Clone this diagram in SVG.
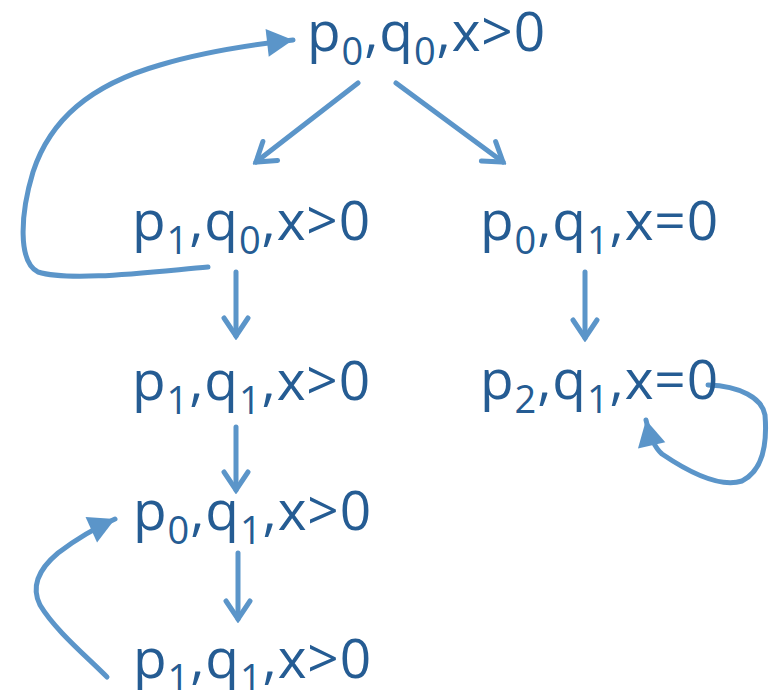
<svg xmlns="http://www.w3.org/2000/svg" width="778" height="690" viewBox="0 0 778 690">
<defs>
<style>
.t{font-family:"Open Sans","Liberation Sans",sans-serif;font-size:55px;letter-spacing:0.9px;fill:#255c93}
.s{font-size:38px}
.c{fill:none;stroke:#5b95c9;stroke-width:5;stroke-linecap:round}
.o{marker-end:url(#open)}
.f{marker-end:url(#fill)}
</style>
<marker id="open" markerUnits="userSpaceOnUse" viewBox="-22 -15 26 30" refX="0" refY="0" markerWidth="26" markerHeight="30" orient="auto">
<path d="M-18,-12 L0,0 L-18,12" fill="none" stroke="#5b95c9" stroke-width="5" stroke-linecap="round" stroke-linejoin="miter"/>
</marker>
<marker id="fill" markerUnits="userSpaceOnUse" viewBox="-28 -16 30 32" refX="0" refY="0" markerWidth="30" markerHeight="32" orient="auto">
<path d="M-26,-14 L0,0 L-26,14 Z" fill="#5b95c9"/>
</marker>
</defs>
<g id="connectors">
<path class="c o" d="M358,83 L256,162"/>
<path class="c o" d="M396,83 L503,162"/>
<path class="c o" d="M236,272 L236,336"/>
<path class="c o" d="M236,427 L236,490"/>
<path class="c o" d="M238,553 L238,619"/>
<path class="c o" d="M585,272 L585,338"/>
<path class="c f" d="M208,267 C150,272 70,282 38,272 C18,262 20,215 33,172 C50,120 90,85 160,65 C200,53 240,46 293,40"/>
<path class="c f" d="M708,385 C740,386 762,398 765,415 C767,440 764,470 742,481 C720,488 690,473 662,454 C655,448 650,438 646,420"/>
<path class="c f" d="M107,677 C85,655 55,630 40,605 C30,585 40,568 58,553 C75,540 95,528 115,519"/>
</g>
<g id="n-p0q0-top"><text class="t" x="307" y="51">p<tspan class="s" dy="14">0</tspan><tspan dy="-14">,q</tspan><tspan class="s" dy="14">0</tspan><tspan dy="-14">,x&gt;0</tspan></text></g>
<g id="n-p1q0"><text class="t" x="132" y="240">p<tspan class="s" dy="14">1</tspan><tspan dy="-14">,q</tspan><tspan class="s" dy="14">0</tspan><tspan dy="-14">,x&gt;0</tspan></text></g>
<g id="n-p0q1-eq"><text class="t" x="480" y="240">p<tspan class="s" dy="14">0</tspan><tspan dy="-14">,q</tspan><tspan class="s" dy="14">1</tspan><tspan dy="-14">,x=0</tspan></text></g>
<g id="n-p1q1-a"><text class="t" x="132" y="400">p<tspan class="s" dy="14">1</tspan><tspan dy="-14">,q</tspan><tspan class="s" dy="14">1</tspan><tspan dy="-14">,x&gt;0</tspan></text></g>
<g id="n-p2q1-eq"><text class="t" x="480" y="399">p<tspan class="s" dy="14">2</tspan><tspan dy="-14">,q</tspan><tspan class="s" dy="14">1</tspan><tspan dy="-14">,x=0</tspan></text></g>
<g id="n-p0q1-gt"><text class="t" x="133" y="530">p<tspan class="s" dy="14">0</tspan><tspan dy="-14">,q</tspan><tspan class="s" dy="14">1</tspan><tspan dy="-14">,x&gt;0</tspan></text></g>
<g id="n-p1q1-b"><text class="t" x="133" y="678">p<tspan class="s" dy="14">1</tspan><tspan dy="-14">,q</tspan><tspan class="s" dy="14">1</tspan><tspan dy="-14">,x&gt;0</tspan></text></g>
</svg>
